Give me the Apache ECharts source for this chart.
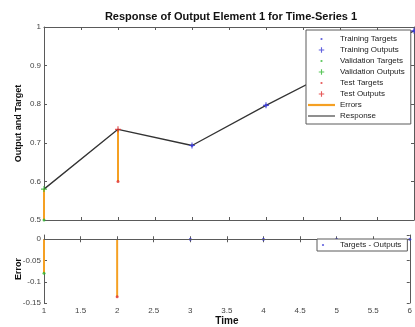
<!DOCTYPE html>
<html>
<head>
<meta charset="utf-8">
<script src="https://cdn.jsdelivr.net/npm/echarts@6/dist/echarts.min.js"></script>
<style>
html,body{margin:0;padding:0;background:#fff;}
#chart{width:415px;height:327px;}
</style>
</head>
<body>
<div id="chart"></div>
<script>
// ---- data ----
const timeSteps = [1, 2, 3, 4, 5, 6];
const targets   = [0.50, 0.60, 0.693, 0.797, 0.895, 0.99];
const outputs   = [0.58, 0.735, 0.693, 0.797, 0.895, 0.99];
const dataSets  = ['validation', 'test', 'training', 'training', 'training', 'training'];
const xTicks    = [1, 1.5, 2, 2.5, 3, 3.5, 4, 4.5, 5, 5.5, 6];
const topYTicks = [0.5, 0.6, 0.7, 0.8, 0.9, 1];
const errYTicks = [-0.15, -0.1, -0.05, 0];

const titleText = 'Response of Output Element 1 for Time-Series 1';
const legendNames = ['Training Targets', 'Training Outputs', 'Validation Targets', 'Validation Outputs',
                     'Test Targets', 'Test Outputs', 'Errors', 'Response'];

// ---- styling ----
const C = {
  training: '#3b3bd6',
  validation: '#2fb82f',
  test: '#e03030',
  err: '#f5a023',
  resp: '#333333',
  axis: '#5a5a5a',
  label: '#444'
};
const FONT = 'Liberation Sans, Arial, sans-serif';
const PLUS = 'path://M4,0H6V4H10V6H6V10H4V6H0V4H4Z';
const DOT_ICON = 'path://M0,0L0,0M10,10L10,10M3.6,5A1.4,1.4 0 1 0 6.4,5A1.4,1.4 0 1 0 3.6,5Z';
const PLUS_ICON = 'path://M0,0L0,0M10,10L10,10M4.3,1.6H5.7V4.3H8.4V5.7H5.7V8.4H4.3V5.7H1.6V4.3H4.3Z';
const ERR_ICON = 'path://M0,0H27V2.2H0Z';
const RESP_ICON = 'path://M0,0H27V1.1H0Z';

function pts(setName, arr) {
  const out = [];
  timeSteps.forEach((t, i) => { if (dataSets[i] === setName) out.push([t, arr[i]]); });
  return out;
}
const errors = timeSteps.map((t, i) => targets[i] - outputs[i]);
function errPts(setName) {
  const out = [];
  timeSteps.forEach((t, i) => { if (dataSets[i] === setName) out.push([t, errors[i]]); });
  return out;
}
const stemTop = timeSteps.map((t, i) => [t, targets[i], outputs[i]]);
const stemErr = timeSteps.map((t, i) => [t, 0, errors[i]]);

function stemRender(params, api) {
  const x = api.value(0);
  const p1 = api.coord([x, api.value(1)]);
  const p2 = api.coord([x, api.value(2)]);
  return {
    type: 'line',
    shape: { x1: p1[0], y1: p1[1], x2: p2[0], y2: p2[1] },
    style: { stroke: C.err, lineWidth: 2 }
  };
}

const axisLine = { show: true, lineStyle: { color: C.axis, width: 1 } };
const tick = { show: true, inside: true, length: 3, lineStyle: { color: C.axis } };
const lbl = { fontSize: 8, color: C.label, fontFamily: FONT };

function xAx(grid, pos, showLabel, extra) {
  return Object.assign({
    type: 'value', gridIndex: grid, position: pos, min: xTicks[0], max: xTicks[xTicks.length - 1],
    interval: xTicks[1] - xTicks[0], axisLine: axisLine, axisTick: tick,
    axisLabel: Object.assign({ show: showLabel, margin: 4 }, lbl),
    splitLine: { show: false }
  }, extra || {});
}
function yAx(grid, pos, showLabel, mn, mx, itv, extra) {
  return Object.assign({
    type: 'value', gridIndex: grid, position: pos, min: mn, max: mx, interval: itv,
    axisLine: axisLine, axisTick: tick,
    axisLabel: Object.assign({ show: showLabel, margin: 3, showMaxLabel: grid === 0 }, lbl),
    splitLine: { show: false }
  }, extra || {});
}
const nameStyle = { fontSize: 9, fontWeight: 'bold', color: '#111', fontFamily: FONT };

const option = {
  animation: false,
  backgroundColor: '#fff',
  title: {
    text: titleText, left: 226, top: 6, textAlign: 'center',
    textStyle: { fontSize: 11, fontWeight: 'bold', color: '#111', fontFamily: FONT }
  },
  grid: [
    { left: 44, top: 27, width: 370, height: 193 },
    { left: 44, top: 235, width: 370, height: 68 }
  ],
  xAxis: [
    xAx(0, 'bottom', false),
    xAx(0, 'top', false),
    xAx(1, 'bottom', true, { name: 'Time', nameLocation: 'middle', nameGap: 13,
      nameTextStyle: Object.assign({}, nameStyle, { fontSize: 10 }) }),
    xAx(1, 'top', false)
  ],
  yAxis: [
    yAx(0, 'left', true, topYTicks[0], topYTicks[topYTicks.length - 1], 0.1,
      { name: 'Output and Target', nameLocation: 'middle', nameGap: 21, nameMoveOverlap: false,
        nameTextStyle: nameStyle }),
    yAx(0, 'right', false, topYTicks[0], topYTicks[topYTicks.length - 1], 0.1),
    yAx(1, 'left', true, errYTicks[0], 0.01, 0.05,
      { name: 'Error', nameLocation: 'middle', nameGap: 21, nameMoveOverlap: false,
        nameTextStyle: nameStyle }),
    yAx(1, 'right', false, errYTicks[0], 0.01, 0.05)
  ],
  legend: [
    {
      orient: 'vertical', left: 306, top: 30, z: 20,
      itemWidth: 27, itemHeight: 8, itemGap: 3,
      padding: [5, 6, 4, 2],
      backgroundColor: '#fff', borderColor: C.axis, borderWidth: 1, borderRadius: 0,
      textStyle: { fontSize: 8, color: '#222', fontFamily: FONT },
      symbolKeepAspect: true,
      data: [
        { name: legendNames[0], icon: DOT_ICON },
        { name: legendNames[1], icon: PLUS_ICON },
        { name: legendNames[2], icon: DOT_ICON },
        { name: legendNames[3], icon: PLUS_ICON },
        { name: legendNames[4], icon: DOT_ICON },
        { name: legendNames[5], icon: PLUS_ICON },
        { name: legendNames[6], icon: ERR_ICON },
        { name: legendNames[7], icon: RESP_ICON }
      ]
    },
    {
      orient: 'vertical', left: 317, top: 239, z: 20,
      itemWidth: 24, itemHeight: 8, itemGap: 2,
      padding: [2, 6, 2, 2],
      backgroundColor: '#fff', borderColor: C.axis, borderWidth: 1, borderRadius: 0,
      textStyle: { fontSize: 8, color: '#222', fontFamily: FONT },
      symbolKeepAspect: true,
      data: [{ name: 'Targets - Outputs', icon: DOT_ICON }]
    }
  ],
  series: [
    // top plot
    { name: 'Errors', type: 'custom', xAxisIndex: 0, yAxisIndex: 0, renderItem: stemRender,
      data: stemTop, itemStyle: { color: C.err }, z: 2 },
    { name: 'Response', type: 'line', xAxisIndex: 0, yAxisIndex: 0,
      data: timeSteps.map((t, i) => [t, outputs[i]]), showSymbol: false,
      lineStyle: { color: C.resp, width: 1.3 }, itemStyle: { color: C.resp }, z: 3 },
    { name: 'Training Targets', type: 'scatter', xAxisIndex: 0, yAxisIndex: 0, data: pts('training', targets),
      symbol: 'circle', symbolSize: 3, itemStyle: { color: C.training }, z: 4 },
    { name: 'Training Outputs', type: 'scatter', xAxisIndex: 0, yAxisIndex: 0, data: pts('training', outputs),
      symbol: PLUS, symbolSize: 6, itemStyle: { color: C.training }, z: 5 },
    { name: 'Validation Targets', type: 'scatter', xAxisIndex: 0, yAxisIndex: 0, data: pts('validation', targets),
      symbol: 'circle', symbolSize: 3, itemStyle: { color: C.validation }, z: 4 },
    { name: 'Validation Outputs', type: 'scatter', xAxisIndex: 0, yAxisIndex: 0, data: pts('validation', outputs),
      symbol: PLUS, symbolSize: 6, itemStyle: { color: C.validation }, z: 5 },
    { name: 'Test Targets', type: 'scatter', xAxisIndex: 0, yAxisIndex: 0, data: pts('test', targets),
      symbol: 'circle', symbolSize: 3, itemStyle: { color: C.test }, z: 4 },
    { name: 'Test Outputs', type: 'scatter', xAxisIndex: 0, yAxisIndex: 0, data: pts('test', outputs),
      symbol: PLUS, symbolSize: 6, itemStyle: { color: C.test }, z: 5 },
    // error plot
    { name: 'Error Stems', type: 'custom', xAxisIndex: 2, yAxisIndex: 2, renderItem: stemRender,
      data: stemErr, z: 2,
      markLine: { silent: true, symbol: 'none', label: { show: false },
        lineStyle: { color: C.axis, type: 'solid', width: 1 }, data: [{ yAxis: 0 }] } },
    { name: 'Targets - Outputs', type: 'scatter', xAxisIndex: 2, yAxisIndex: 2, data: errPts('training'),
      symbol: 'circle', symbolSize: 3, itemStyle: { color: C.training }, z: 4 },
    { name: 'Validation Errors', type: 'scatter', xAxisIndex: 2, yAxisIndex: 2, data: errPts('validation'),
      symbol: 'circle', symbolSize: 3, itemStyle: { color: C.validation }, z: 4 },
    { name: 'Test Errors', type: 'scatter', xAxisIndex: 2, yAxisIndex: 2, data: errPts('test'),
      symbol: 'circle', symbolSize: 3, itemStyle: { color: C.test }, z: 4 }
  ]
};

const chart = echarts.init(document.getElementById('chart'), null, { renderer: 'canvas' });
chart.setOption(option);
</script>
</body>
</html>
